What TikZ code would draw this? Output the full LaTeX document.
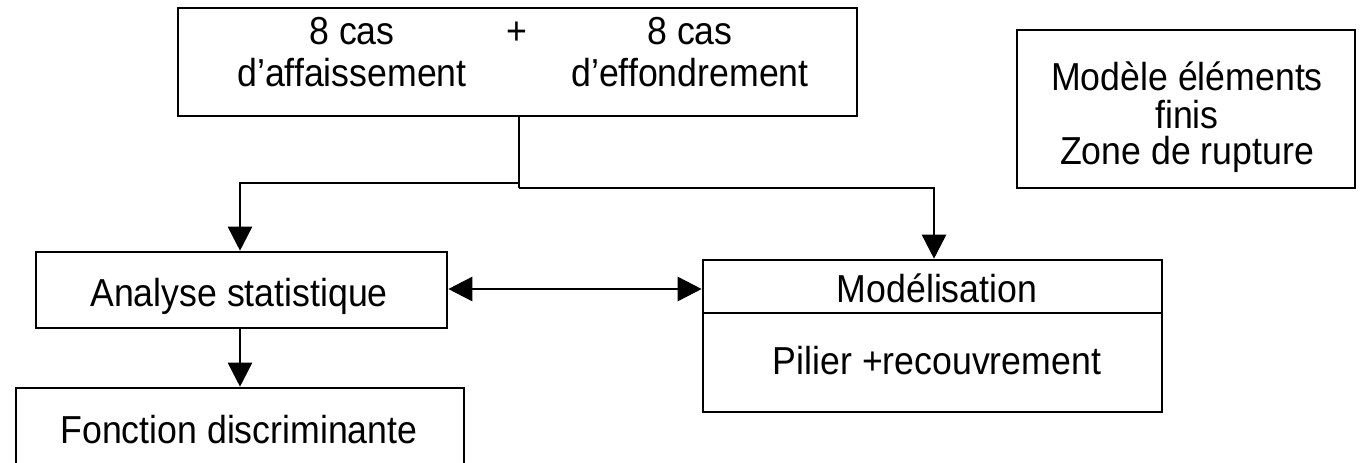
\documentclass[tikz,border=0pt]{standalone}
\usepackage{fontspec}
\setmainfont{Liberation Sans}[FakeStretch=0.915]
\usetikzlibrary{arrows.meta}
\begin{document}
\begin{tikzpicture}[x=0.5pt,y=-0.5pt,
  box/.style={draw=black, line width=1.3pt, rectangle, inner sep=0pt},
  txt/.style={inner sep=0pt, font=\fontsize{19.5}{18}\selectfont, align=center},
  conn/.style={draw=black, line width=1.3pt},
  tip/.style={-{Triangle[length=12pt,width=12pt]}},
  dtip/.style={{Triangle[length=12pt,width=12pt]}-{Triangle[length=12pt,width=12pt]}}]
\useasboundingbox (0,0) rectangle (1364,462);
\fill[white] (0,0) rectangle (1364,462);
% boxes
\node[box, minimum width=339.5pt, minimum height=54pt] (top) at (517.5,62) {};
\node[txt, anchor=base] (t1) at (352,44) {8 cas};
\node[txt, anchor=base] (tp) at (517,44) {+};
\node[txt, anchor=base] (t2) at (690,44) {8 cas};
\node[txt, anchor=base] (t3) at (352,86) {d’affaissement};
\node[txt, anchor=base] (t4) at (690,86) {d’effondrement};

\node[box, minimum width=205.5pt, minimum height=38pt] (ana) at (241.5,290) {};
\node[txt, anchor=base] (anatxt) at (239,306) {Analyse statistique};
\node[box, minimum width=224pt, minimum height=45pt] (fon) at (240,433) {};
\node[txt, anchor=base] (fontxt) at (239,443) {Fonction discriminante};

\node[box, minimum width=229.5pt, minimum height=26.5pt] (modtop) at (932.5,286.5) {};
\node[txt, anchor=base] (modtxt) at (937,302) {Modélisation};
\node[box, minimum width=229.5pt, minimum height=49.5pt] (modbot) at (932.5,362.5) {};
\node[txt, anchor=base] (piltxt) at (937,374) {Pilier +recouvrement};

\node[box, minimum width=169pt, minimum height=79pt] (fem) at (1186,109) {};
\node[txt, anchor=base] (fem1) at (1187,90) {Modèle éléments};
\node[txt, anchor=base] (fem2) at (1187,128) {finis};
\node[txt, anchor=base] (fem3) at (1187,164) {Zone de rupture};

% connectors
\coordinate (j) at (519,188);
\coordinate (jl) at (519,183);
\draw[conn] (top.south -| j) -- (j);
\draw[conn, tip] (j) -| (934,0 |- modtop.north);
\draw[conn, tip] (jl) -| (240,0 |- ana.north);
\draw[conn, tip] (240,0 |- ana.south) -- (240,0 |- fon.north);
\draw[conn, dtip] (ana.east |- 0,289) -- (modtop.west |- 0,289);
\end{tikzpicture}
\end{document}
